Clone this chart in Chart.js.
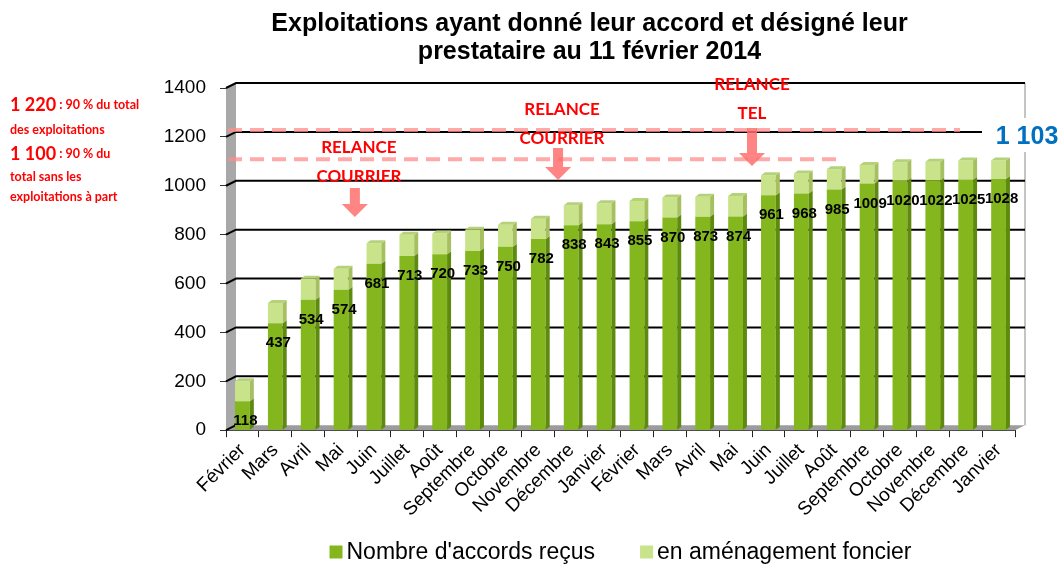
<!DOCTYPE html>
<html>
<head>
<meta charset="utf-8">
<script src="https://cdn.jsdelivr.net/npm/chart.js@4.4.1/dist/chart.umd.min.js"></script>
<style>
  html, body { margin: 0; padding: 0; background: #fff; }
  #wrap { width: 1062px; height: 565px; }
</style>
</head>
<body>
<div id="wrap"><canvas id="chart" width="1062" height="565"></canvas></div>
<script>
// Données
const mois = ['Février', 'Mars', 'Avril', 'Mai', 'Juin', 'Juillet', 'Août', 'Septembre', 'Octobre',
  'Novembre', 'Décembre', 'Janvier', 'Février', 'Mars', 'Avril', 'Mai', 'Juin', 'Juillet', 'Août',
  'Septembre', 'Octobre', 'Novembre', 'Décembre', 'Janvier'];
const accordsRecus = [118, 437, 534, 574, 681, 713, 720, 733, 750, 782, 838, 843, 855, 870, 873, 874,
  961, 968, 985, 1009, 1020, 1022, 1025, 1028];
const amenagementFoncier = [82, 83, 86, 86, 84, 87, 85, 87, 90, 83, 82, 85, 83, 82, 82, 84,
  82, 82, 83, 76, 76, 76, 78, 75];
const yTicks = [0, 200, 400, 600, 800, 1000, 1200, 1400];
const seuils = [1220, 1100];
const totalFinal = '1 103';

const FONT = "'Liberation Sans', Arial, sans-serif";
const CAL = "Lato, 'Noto Sans', sans-serif";
const DEPTH_X = 10, DEPTH_Y = 5;

function shade(ctx, pts, color) {
    ctx.fillStyle = color;
    ctx.beginPath();
    ctx.moveTo(pts[0][0], pts[0][1]);
    for (let i = 1; i < pts.length; i++) ctx.lineTo(pts[i][0], pts[i][1]);
    ctx.closePath();
    ctx.fill();
}

// murs, sol et quadrillage façon 3D
const decorPlugin = {
    id: 'decor',
    beforeDatasetsDraw(chart) {
        const { ctx, chartArea: a, scales: { x, y } } = chart;
        ctx.save();
        // mur gauche
        shade(ctx, [[a.left, a.bottom], [a.left, a.top], [a.left + DEPTH_X, a.top - DEPTH_Y], [a.left + DEPTH_X, a.bottom - DEPTH_Y]], '#a8a8a8');
        // sol
        shade(ctx, [[a.left, a.bottom], [a.left + DEPTH_X, a.bottom - DEPTH_Y], [a.right + DEPTH_X, a.bottom - DEPTH_Y], [a.right, a.bottom]], '#9c9c9c');
        // bord droit du mur du fond
        ctx.strokeStyle = '#c4c4c4';
        ctx.lineWidth = 2;
        ctx.beginPath();
        ctx.moveTo(a.right + DEPTH_X, a.top - DEPTH_Y);
        ctx.lineTo(a.right + DEPTH_X, a.bottom - DEPTH_Y);
        ctx.stroke();
        // quadrillage
        ctx.strokeStyle = '#000';
        ctx.lineWidth = 2;
        yTicks.forEach(v => {
            const py = y.getPixelForValue(v) - DEPTH_Y;
            // petit raccord oblique entre graduation et mur du fond
            ctx.beginPath();
            ctx.moveTo(a.left, py + DEPTH_Y);
            ctx.lineTo(a.left + DEPTH_X, py);
            if (v !== 0) ctx.lineTo(a.right + DEPTH_X, py);
            ctx.stroke();
        });
        // lignes de seuil
        ctx.strokeStyle = 'rgba(255, 140, 140, 0.75)';
        ctx.lineWidth = 4;
        ctx.setLineDash([14, 8]);
        const fins = [a.right - 55, x.getPixelForValue(18) + 2];
        seuils.forEach((v, i) => {
            const py = y.getPixelForValue(v) - 2;
            ctx.beginPath();
            ctx.moveTo(a.left + 2, py);
            ctx.lineTo(fins[i], py);
            ctx.stroke();
        });
        ctx.restore();
    },
    afterDatasetsDraw(chart) {
        const { ctx } = chart;
        ctx.save();
        const sides = ['#5e8a0e', '#a6c060'];
        const tops = ['#6f9c14', '#b5d27a'];
        chart.data.datasets.forEach((ds, di) => {
            chart.getDatasetMeta(di).data.forEach(bar => {
                const w = bar.width / 2;
                const top = Math.min(bar.y, bar.base), bot = Math.max(bar.y, bar.base);
                shade(ctx, [[bar.x + w, top], [bar.x + w + 4, top - 3], [bar.x + w + 4, bot - 3], [bar.x + w, bot]], sides[di]);
                if (di === chart.data.datasets.length - 1) {
                    shade(ctx, [[bar.x - w, top], [bar.x - w + 4, top - 3], [bar.x + w + 4, top - 3], [bar.x + w, top]], tops[di]);
                }
            });
        });
        // valeurs des accords
        ctx.fillStyle = '#000';
        ctx.font = 'bold 15px ' + FONT;
        ctx.textAlign = 'center';
        ctx.textBaseline = 'middle';
        chart.getDatasetMeta(0).data.forEach((bar, i) => {
            ctx.fillText(String(accordsRecus[i]), bar.x + 3, bar.y + 20);
        });
        ctx.restore();
    },
    afterDraw(chart) {
        const { ctx, chartArea: a, scales: { x } } = chart;
        const step = x.getPixelForValue(1) - x.getPixelForValue(0);
        ctx.save();
        ctx.fillStyle = '#ff0000';
        ctx.textBaseline = 'middle';
        ctx.textAlign = 'left';
        const big = 'bold 18px ' + CAL, small = 'bold 12.5px ' + CAL;
        const lignes = [
            [105, [['1 220', big], [' : 90 % du total', small]]],
            [130, [['des exploitations', small]]],
            [154, [['1 100', big], [' : 90 % du', small]]],
            [177, [['total sans les', small]]],
            [197, [['exploitations à part', small]]]
        ];
        lignes.forEach(([ly, parts]) => {
            let lx = 10;
            parts.forEach(([t, f]) => {
                ctx.font = f;
                ctx.fillText(t, lx, ly);
                lx += ctx.measureText(t).width;
            });
        });

        // relances
        const relances = [
            { px: x.getPixelForValue(3) + step * 0.42, lines: ['RELANCE', 'COURRIER'], ty: 148, top: 188, tip: 217 },
            { px: x.getPixelForValue(9) + step * 0.6, lines: ['RELANCE', 'COURRIER'], ty: 110, top: 148, tip: 180 },
            { px: x.getPixelForValue(15) + step * 0.5, lines: ['RELANCE', 'TEL'], ty: 85, top: 128, tip: 166 }
        ];
        relances.forEach(r => {
            shade(ctx, [[r.px - 5, r.top], [r.px + 5, r.top], [r.px + 5, r.tip - 13], [r.px + 13, r.tip - 13],
                [r.px, r.tip], [r.px - 13, r.tip - 13], [r.px - 5, r.tip - 13]], 'rgba(255, 110, 110, 0.85)');
            ctx.fillStyle = '#ff0000';
            ctx.font = 'bold 17px ' + CAL;
            ctx.textAlign = 'center';
            r.lines.forEach((t, i) => ctx.fillText(t, r.px + (r.lines[1] === 'TEL' ? 0 : 4), r.ty + i * 29));
        });

        // total final
        ctx.fillStyle = '#fff';
        ctx.fillRect(a.right - 33, 118, 1062 - a.right + 33, 34);
        ctx.fillStyle = '#0070c0';
        ctx.font = 'bold 25px ' + FONT;
        ctx.textAlign = 'center';
        ctx.fillText(totalFinal, 1027, 137);

        // légende
        ctx.font = '23px ' + FONT;
        ctx.textAlign = 'left';
        const items = chart.data.datasets.map(ds => ({ text: ds.label, color: ds.backgroundColor }));
        const box = 13, gapBox = 4, gapItem = 45;
        const widths = items.map(it => box + gapBox + ctx.measureText(it.text).width);
        const total = widths.reduce((s, w) => s + w, 0) + gapItem * (items.length - 1);
        let lx = (a.left + a.right) / 2 - total / 2;
        const ly = 552;
        items.forEach((it, i) => {
            ctx.fillStyle = it.color;
            ctx.fillRect(lx, ly - box / 2, box, box);
            ctx.fillStyle = '#000';
            ctx.fillText(it.text, lx + box + gapBox, ly + 1);
            lx += widths[i] + gapItem;
        });
        ctx.restore();
    }
};

new Chart(document.getElementById('chart'), {
    type: 'bar',
    data: {
        labels: mois,
        datasets: [{
            label: "Nombre d'accords reçus",
            data: accordsRecus,
            backgroundColor: '#84b71d',
            barPercentage: 0.5,
            categoryPercentage: 0.9
        }, {
            label: 'en aménagement foncier',
            data: amenagementFoncier,
            backgroundColor: '#c8e38a',
            barPercentage: 0.5,
            categoryPercentage: 0.9
        }]
    },
    options: {
        responsive: false,
        animation: false,
        devicePixelRatio: 1,
        layout: { padding: { left: 164, right: 47, top: 0, bottom: 42 } },
        font: { family: FONT },
        plugins: {
            title: {
                display: true,
                text: ['Exploitations ayant donné leur accord et désigné leur', 'prestataire au 11 février 2014'],
                color: '#000',
                font: { family: FONT, size: 25, weight: 'bold', lineHeight: 1.12 },
                padding: { top: 10, bottom: 22 }
            },
            legend: { display: false },
            tooltip: { enabled: false }
        },
        scales: {
            x: {
                stacked: true,
                grid: { display: true, drawOnChartArea: false, drawTicks: true, tickLength: 7, color: '#222', offset: true },
                border: { display: true, color: '#333', width: 1 },
                ticks: {
                    autoSkip: false,
                    minRotation: 45,
                    maxRotation: 45,
                    color: '#000',
                    font: { family: FONT, size: 19 },
                    padding: 2
                }
            },
            y: {
                stacked: true,
                min: 0,
                max: 1400,
                afterFit(s) { s.width = 62; },
                afterBuildTicks(s) { s.ticks = yTicks.map(v => ({ value: v })); },
                grid: { display: true, drawOnChartArea: false, drawTicks: true, tickLength: 6, color: '#333' },
                border: { display: false },
                ticks: {
                    color: '#000',
                    font: { family: FONT, size: 19 },
                    padding: 14,
                    callback: v => String(v)
                }
            }
        }
    },
    plugins: [decorPlugin]
});
</script>
</body>
</html>
